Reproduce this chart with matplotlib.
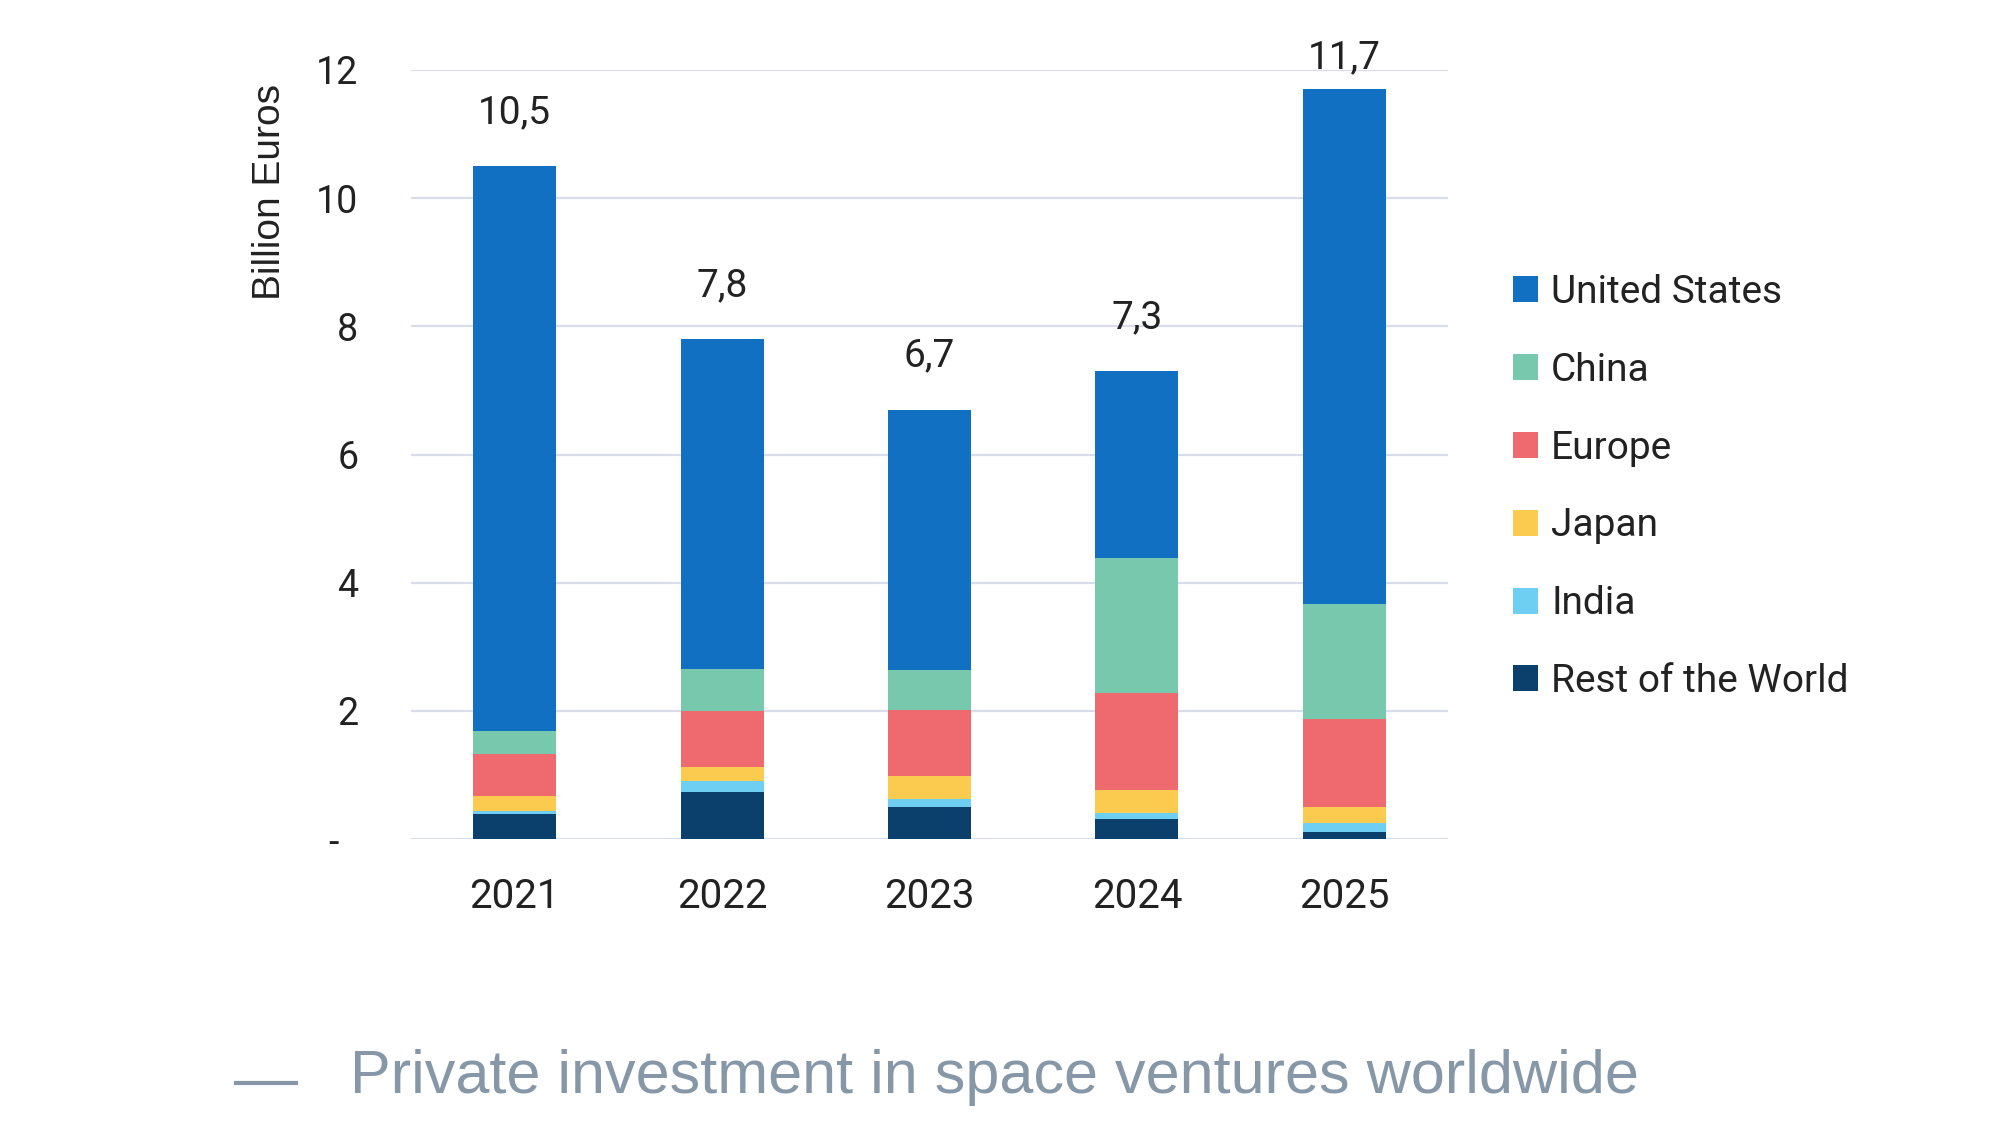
import numpy as np
import matplotlib
matplotlib.use('Agg')
import matplotlib.pyplot as plt
from matplotlib.patches import Patch
from matplotlib.lines import Line2D

# Data (billion euros)
years = ['2021', '2022', '2023', '2024', '2025']
totals = [10.5, 7.8, 6.7, 7.3, 11.7]
total_labels = ['10,5', '7,8', '6,7', '7,3', '11,7']

rest_of_world = [0.39, 0.74, 0.50, 0.32, 0.11]
india = [0.05, 0.16, 0.12, 0.08, 0.14]
japan = [0.23, 0.23, 0.36, 0.37, 0.25]
europe = [0.65, 0.87, 1.03, 1.51, 1.38]
china = [0.36, 0.65, 0.62, 2.10, 1.79]
united_states = [8.82, 5.15, 4.07, 2.92, 8.03]

yticks = [0, 2, 4, 6, 8, 10, 12]
ytick_labels = ['-  ', '2', '4', '6', '8', '10', '12']

# stacking order bottom -> top
series = [
    ('Rest of the World', rest_of_world, '#0b3f6c'),
    ('India', india, '#6fcff3'),
    ('Japan', japan, '#fbcb4f'),
    ('Europe', europe, '#ee6a6e'),
    ('China', china, '#77c8ad'),
    ('United States', united_states, '#1170c1'),
]

text_col = '#222222'
tick_font = 'Roboto'

fig = plt.figure(figsize=(20, 11.27), dpi=100)
ax = fig.add_axes([0.2055, 0.2555, 0.5185, 0.6824])

x = np.arange(len(years))
bottom = np.zeros(len(years))
for name, vals, col in series:
    ax.bar(x, vals, width=0.4, bottom=bottom, color=col, zorder=3)
    bottom += np.array(vals)

# total labels above the bars (kept inside the plot area like Excel does)
for i, t in enumerate(totals):
    ax.text(x[i], min(t + 0.84, 12.19), total_labels[i], ha='center', va='center',
            fontsize=28, family=tick_font, color=text_col, clip_on=False)

ax.set_xlim(-0.5, 4.5)
ax.set_ylim(0, 12)
ax.set_xticks(x)
ax.set_xticklabels(years, fontsize=29, family=tick_font, color=text_col)
ax.set_yticks(yticks)
ax.set_yticklabels(ytick_labels, fontsize=27, family=tick_font, color=text_col)
ax.tick_params(axis='both', length=0)
ax.tick_params(axis='x', pad=27)
ax.tick_params(axis='y', pad=38)
ax.grid(axis='y', color='#d9dde9', linewidth=1.6, zorder=0)
for s in ax.spines.values():
    s.set_visible(False)

fig.text(0.135, 0.8296, 'Billion Euros', rotation=90, ha='center', va='center',
         fontsize=28, family='Liberation Sans', color=text_col)

handles = [Patch(facecolor=col, label=name) for name, vals, col in series[::-1]]
leg = ax.legend(handles=handles, loc='upper left', bbox_to_anchor=(0.7565, 0.757),
                bbox_transform=fig.transFigure, frameon=False, fontsize=28,
                handlelength=0.65, handleheight=0.65, handletextpad=0.33,
                labelspacing=1.05, borderpad=0, borderaxespad=0)
for t in leg.get_texts():
    t.set_family(tick_font)
    t.set_color(text_col)

# caption
cap_col = '#8698a8'
fig.add_artist(Line2D([236 / 2000, 296 / 2000], [0.039, 0.039], color=cap_col,
                      linewidth=3, transform=fig.transFigure))
fig.text(0.175, 0.0302, 'Private investment in space ventures worldwide', ha='left',
         va='baseline', fontsize=44, family='Liberation Sans', color=cap_col)

fig.savefig('out.png', dpi=100, facecolor='white')
